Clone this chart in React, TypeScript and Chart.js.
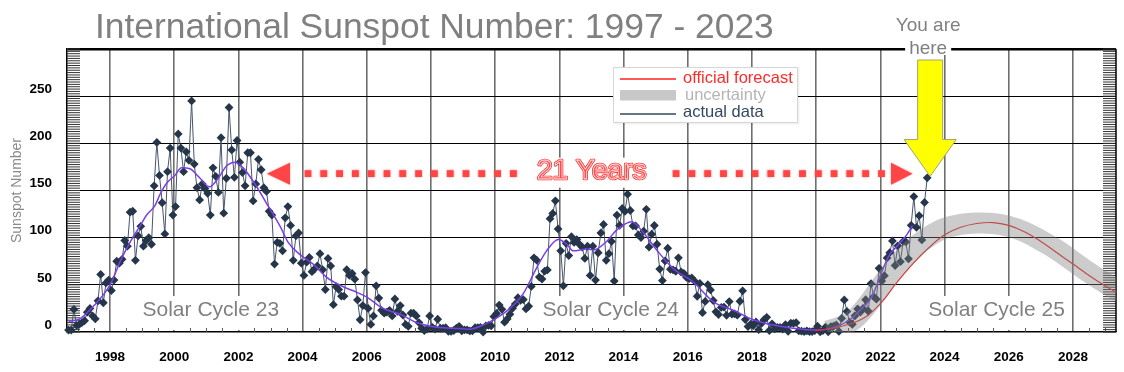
import React, { useEffect, useRef } from 'react';
import { Chart, registerables } from 'chart.js';

Chart.register(...registerables);

// ---------- data ----------
const firstYear = 1996;
const firstMonth = 9; // September 1996

const monthlySunspots = [
  // 1996 (Sep-Dec)
  2, 2, 24, 7,
  // 1997
  8, 10, 12, 21, 25, 17, 14, 33, 61, 31, 52, 55,
  // 1998
  44, 55, 75, 73, 77, 97, 91, 127, 128, 76, 102, 112,
  // 1999
  91, 97, 100, 93, 155, 201, 166, 137, 104, 170, 195, 124,
  // 2000
  133, 210, 195, 170, 191, 182, 245, 178, 153, 140, 157, 152,
  // 2001
  147, 124, 174, 165, 148, 206, 126, 163, 238, 193, 164, 203,
  // 2002
  180, 169, 155, 190, 190, 139, 157, 183, 172, 153, 149, 128,
  // 2003
  124, 72, 95, 94, 86, 121, 133, 113, 76, 102, 105, 73,
  // 2004
  60, 74, 79, 64, 67, 70, 83, 66, 45, 78, 70, 29,
  // 2005
  48, 45, 38, 38, 66, 60, 62, 56, 34, 13, 28, 63,
  // 2006
  25, 8, 17, 49, 36, 23, 20, 21, 23, 17, 35, 22,
  // 2007
  28, 18, 8, 6, 20, 20, 17, 10, 4, 1.5, 3, 17,
  // 2008
  5, 3, 13.5, 4, 4, 4.5, 0.7, 0.7, 1.6, 4, 6, 1.2,
  // 2009
  2.3, 2.2, 1.1, 1.2, 4.5, 4.5, 5, 0, 6.5, 7.1, 6.5, 16.4,
  // 2010
  19.6, 28.5, 24, 10.4, 13.9, 18.8, 25.2, 29.6, 36.4, 33.6, 34.4, 24.5,
  // 2011
  27.3, 48.3, 78.6, 76.1, 58.2, 56.1, 64.5, 65.8, 120.1, 125.7, 139.1, 109.3,
  // 2012
  86, 49, 94, 81, 101, 95, 98, 93, 90, 78, 91, 60,
  // 2013
  91, 55, 84, 105, 114, 76, 83, 96, 54, 124, 113, 131,
  // 2014
  127.8, 146.1, 128.8, 112.5, 112.5, 102.9, 100.2, 106.9, 130, 90, 103.6, 112.9,
  // 2015
  93, 66.7, 54.5, 75.3, 88.8, 66.5, 65.8, 64.4, 78.6, 63.6, 62.2, 58,
  // 2016
  56.6, 57.3, 54.1, 37.9, 51.5, 20.5, 32.4, 50.2, 44.6, 33.4, 21.4, 18.5,
  // 2017
  26.1, 26.4, 17.7, 32.3, 18.9, 19.2, 17.8, 32.6, 43.7, 13.2, 5.7, 8.2,
  // 2018
  6.8, 10.7, 2.5, 8.9, 13.1, 15.6, 1.6, 8.7, 3.3, 4.9, 4.9, 3.1,
  // 2019
  7.7, 0.8, 9.4, 9.1, 9.9, 1.2, 0.9, 0.5, 1.1, 0.4, 0.5, 1.5,
  // 2020
  6.2, 0.2, 1.5, 5.2, 0.2, 5.8, 6.1, 7.5, 0.6, 14.4, 34, 21.8,
  // 2021
  10.4, 8.2, 17.2, 24.5, 21.2, 25, 34.2, 22, 51.3, 37.4, 34.8, 67.5,
  // 2022
  54, 59.7, 78.5, 84.1, 96.5, 70.5, 91.4, 74.6, 96, 95.5, 77.6, 113.1,
  // 2023 (Jan-Jun)
  143.6, 110.9, 123.3, 97.6, 137.4, 163.4,
];

const smoothedYears = [1996.71, 1997.0, 1997.5, 1998.0, 1998.36, 1998.67, 1998.93, 1999.14, 1999.4, 1999.56, 1999.77, 2000.02, 2000.23, 2000.49, 2000.75, 2001.1, 2001.35, 2001.63, 2001.9, 2002.15, 2002.57, 2002.88, 2003.3, 2003.55, 2003.92, 2004.33, 2004.75, 2005.27, 2005.69, 2006.0, 2006.5, 2007.03, 2007.55, 2008.07, 2008.7, 2009.2, 2009.6, 2010.05, 2010.46, 2010.88, 2011.29, 2011.6, 2011.97, 2012.23, 2012.43, 2012.85, 2013.06, 2013.47, 2013.78, 2014.25, 2014.6, 2015.03, 2015.55, 2016.17, 2016.8, 2017.42, 2018.04, 2018.66, 2019.29, 2019.7, 2020.12, 2020.64, 2021.05, 2021.42, 2021.73, 2022.0, 2022.25, 2022.6, 2022.82, 2023.0];
const smoothedValues = [11.5, 13, 28, 50, 78, 98, 112, 124, 134, 146, 158, 166, 174, 173, 165, 154, 162, 176, 180, 174, 154, 136, 112, 95, 82, 72, 58, 48, 42, 37, 25, 19, 10, 5.5, 4, 3, 7, 15, 25, 41, 68, 86, 98, 93, 86, 88, 87, 96, 108, 117, 106, 87, 67, 53, 32, 23, 13, 7.4, 4, 2.5, 2, 6, 13, 25, 37, 60, 80, 94, 103, 113];

const forecastYears = [2019.96, 2020.5, 2021, 2021.5, 2022, 2022.5, 2023, 2023.5, 2024, 2024.5, 2025, 2025.5, 2026, 2026.5, 2027, 2027.5, 2028, 2028.5, 2029, 2029.5];
const forecastValues = [1.5, 4, 8, 15, 30, 52, 72, 89, 103, 111, 115, 116, 113, 106, 96, 84, 72, 60, 49, 39];

const bandYears = [2020.35, 2020.8, 2021.2, 2021.6, 2022.0, 2022.5, 2023.0, 2023.5, 2024.0, 2024.5, 2025.0, 2025.5, 2026.0, 2026.5, 2027.0, 2027.5, 2028.0, 2028.5, 2029.0, 2029.5];
const bandValues = [1, 6, 14, 29, 48, 70, 88, 101, 110, 114, 115.5, 115, 112, 106, 97, 87, 75, 63, 52, 42];

const xTickYears = [1998, 2000, 2002, 2004, 2006, 2008, 2010, 2012, 2014, 2016, 2018, 2020, 2022, 2024, 2026, 2028];
const yTickValues = [0, 50, 100, 150, 200, 250, 300];

const cycleLabels = ['Solar Cycle 23', 'Solar Cycle 24', 'Solar Cycle 25'];
const cycleLabelYears = [2001.14, 2013.6, 2025.62];

const legendLabels = ['official forecast', 'uncertainty', 'actual data'];
const titleText = 'International Sunspot Number: 1997 - 2023';
const spanLabel = '21 Years';
const spanStartYear = 2002.89;
const spanEndYear = 2023.0;
const spanValue = 170;
const hereLabel = ['You are', 'here'];
const hereYear = 2023.55;
const hereTipValue = 165;
const hereBaseValue = 204;

const X_MIN = 1996.66;
const X_MAX = 2029.34;

const FONT = '"Liberation Sans", Arial, Helvetica, sans-serif';

const monthlyPoints = monthlySunspots.map((v, i) => ({
  x: firstYear + (firstMonth - 1 + i + 0.5) / 12,
  y: v,
}));
const smoothedPoints = smoothedYears.map((x, i) => ({ x, y: smoothedValues[i] }));
const forecastPoints = forecastYears.map((x, i) => ({ x, y: forecastValues[i] }));
const bandPoints = bandYears.map((x, i) => ({ x, y: bandValues[i] }));

function spanGeometry(chart: any) {
  const { ctx, scales } = chart;
  const x = scales.x;
  const y = scales.y;
  const ay = y.getPixelForValue(spanValue) + 2;
  const lTip = x.getPixelForValue(spanStartYear);
  const rTip = x.getPixelForValue(spanEndYear);
  const cx = x.getPixelForValue((spanStartYear + spanEndYear) / 2) + 2;
  ctx.save();
  ctx.font = `28px ${FONT}`;
  const tw = ctx.measureText(spanLabel).width;
  ctx.restore();
  return { ay, lTip, rTip, cx, tw };
}

const overlayPlugin = {
  id: 'overlay',
  beforeDatasetsDraw(chart: any) {
    const { ctx, chartArea: a, scales } = chart;
    const x = scales.x;
    const y = scales.y;
    ctx.save();
    // Solar cycle labels on white boxes
    ctx.font = `21px ${FONT}`;
    ctx.textAlign = 'center';
    ctx.textBaseline = 'middle';
    cycleLabels.forEach((t, i) => {
      const cx = x.getPixelForValue(cycleLabelYears[i]);
      const w = ctx.measureText(t).width;
      ctx.fillStyle = '#ffffff';
      ctx.fillRect(cx - w / 2 - 4, a.bottom - 36, w + 8, 34);
      ctx.fillStyle = '#808080';
      ctx.fillText(t, cx, a.bottom - 22);
    });
    // white backing behind the "21 Years" label
    const g = spanGeometry(chart);
    ctx.fillStyle = '#ffffff';
    ctx.fillRect(g.cx - g.tw / 2 - 6, g.ay - 16, g.tw + 12, 30);
    // minor ticks along the bottom
    ctx.strokeStyle = '#555';
    ctx.lineWidth = 1;
    for (let t = Math.ceil(X_MIN * 2) / 2; t <= X_MAX; t += 0.5) {
      if (xTickYears.includes(t)) continue;
      const px = Math.round(x.getPixelForValue(t)) + 0.5;
      ctx.beginPath();
      ctx.moveTo(px, a.bottom);
      ctx.lineTo(px, a.bottom - 4);
      ctx.stroke();
    }
    // hatch on the left and right edges
    ctx.strokeStyle = '#333';
    ctx.lineWidth = 1;
    for (let v = 0; v <= 300; v += 2.5) {
      const py = y.getPixelForValue(v);
      ctx.beginPath();
      ctx.moveTo(a.left, py);
      ctx.lineTo(a.left + 13, py);
      ctx.moveTo(a.right - 13, py);
      ctx.lineTo(a.right, py);
      ctx.stroke();
    }
    // right border
    ctx.strokeStyle = '#000';
    ctx.lineWidth = 1.5;
    ctx.beginPath();
    ctx.moveTo(a.right, a.top);
    ctx.lineTo(a.right, a.bottom);
    ctx.stroke();
    ctx.restore();
  },
  afterDraw(chart: any) {
    const { ctx, chartArea: a, scales } = chart;
    const x = scales.x;
    const y = scales.y;
    ctx.save();

    // title
    ctx.font = `35.4px ${FONT}`;
    ctx.fillStyle = '#808080';
    ctx.textAlign = 'left';
    ctx.textBaseline = 'alphabetic';
    ctx.fillText(titleText, 95, 38);

    // legend
    const lx = 613, ly = 67, lw = 184, lh = 55;
    ctx.fillStyle = 'rgba(0,0,0,0.06)';
    ctx.fillRect(lx + 1, ly + 1, lw + 1.5, lh + 1.5);
    ctx.fillStyle = '#ffffff';
    ctx.fillRect(lx, ly, lw, lh);
    ctx.strokeStyle = '#d6d6d6';
    ctx.lineWidth = 1;
    ctx.strokeRect(lx + 0.5, ly + 0.5, lw, lh);
    ctx.font = `16.5px ${FONT}`;
    ctx.textBaseline = 'middle';
    // forecast
    ctx.strokeStyle = '#ff2020';
    ctx.lineWidth = 1.5;
    ctx.beginPath(); ctx.moveTo(620, 79); ctx.lineTo(676, 79); ctx.stroke();
    ctx.fillStyle = '#ff2a2a';
    ctx.fillText(legendLabels[0], 683, 78);
    // uncertainty
    ctx.fillStyle = '#c8c8c8';
    ctx.fillRect(620, 90, 56, 10.5);
    ctx.fillStyle = '#b4b4b4';
    ctx.fillText(legendLabels[1], 685, 95);
    // actual
    ctx.strokeStyle = '#34495e';
    ctx.lineWidth = 1.5;
    ctx.beginPath(); ctx.moveTo(620, 114); ctx.lineTo(676, 114); ctx.stroke();
    ctx.fillStyle = '#34495e';
    ctx.fillText(legendLabels[2], 683, 112);

    // 21 years dotted double arrow
    const { ay, lTip, rTip, cx, tw } = spanGeometry(chart);
    ctx.fillStyle = '#ff4545';
    ctx.shadowColor = 'rgba(255,80,80,0.6)';
    ctx.shadowBlur = 2;
    ctx.beginPath();
    ctx.moveTo(lTip, ay); ctx.lineTo(lTip + 23, ay - 11); ctx.lineTo(lTip + 23, ay + 11); ctx.closePath(); ctx.fill();
    ctx.beginPath();
    ctx.moveTo(rTip, ay); ctx.lineTo(rTip - 21.5, ay - 11); ctx.lineTo(rTip - 21.5, ay + 11); ctx.closePath(); ctx.fill();
    const step = 15.8;
    for (let px = lTip + 41; px <= cx - tw / 2 - 14; px += step) {
      ctx.fillRect(px - 3.4, ay - 3.4, 6.8, 6.8);
    }
    for (let px = rTip - 31; px >= cx + tw / 2 + 14; px -= step) {
      ctx.fillRect(px - 3.4, ay - 3.4, 6.8, 6.8);
    }
    ctx.shadowBlur = 0;
    ctx.shadowColor = 'transparent';
    ctx.font = `28px ${FONT}`;
    ctx.textAlign = 'center';
    ctx.textBaseline = 'middle';
    ctx.lineJoin = 'round';
    ctx.strokeStyle = '#ff3030';
    ctx.lineWidth = 2.5;
    ctx.strokeText(spanLabel, cx, ay - 2);
    ctx.fillStyle = '#ff4a4a';
    ctx.fillText(spanLabel, cx, ay - 2);
    ctx.strokeStyle = 'rgba(255,255,255,0.9)';
    ctx.lineWidth = 0.8;
    ctx.strokeText(spanLabel, cx, ay - 2);

    // yellow "you are here" arrow
    const hx = x.getPixelForValue(hereYear);
    const tipY = y.getPixelForValue(hereTipValue);
    const baseY = y.getPixelForValue(hereBaseValue);
    const topY = a.top + 11;
    ctx.fillStyle = '#ffff00';
    ctx.strokeStyle = '#a3a36a';
    ctx.lineWidth = 1;
    ctx.beginPath();
    ctx.moveTo(hx - 12.5, topY);
    ctx.lineTo(hx + 12.5, topY);
    ctx.lineTo(hx + 12.5, baseY);
    ctx.lineTo(hx + 26, baseY);
    ctx.lineTo(hx, tipY);
    ctx.lineTo(hx - 26, baseY);
    ctx.lineTo(hx - 12.5, baseY);
    ctx.closePath();
    ctx.fill();
    ctx.stroke();

    ctx.font = `19px ${FONT}`;
    ctx.textAlign = 'center';
    ctx.textBaseline = 'alphabetic';
    const hw = ctx.measureText(hereLabel[1]).width;
    ctx.fillStyle = '#ffffff';
    ctx.fillRect(hx - 2 - hw / 2 - 4, a.top - 8, hw + 8, 14);
    ctx.fillStyle = '#808080';
    ctx.fillText(hereLabel[0], hx - 2, 31);
    ctx.fillText(hereLabel[1], hx - 2, 54);

    ctx.restore();
  },
};

export default function App() {
  const canvasRef = useRef<HTMLCanvasElement | null>(null);

  useEffect(() => {
    if (!canvasRef.current) return;
    const chart = new Chart(canvasRef.current, {
      type: 'line',
      data: {
        datasets: [
          {
            label: 'uncertainty',
            data: bandPoints,
            borderColor: 'rgba(128,128,128,0.4)',
            borderWidth: 21,
            borderCapStyle: 'butt',
            pointRadius: 0,
            tension: 0.4,
            fill: false,
            clip: 0,
            order: 0,
          },
          {
            label: 'official forecast',
            data: forecastPoints,
            borderColor: '#e82a2a',
            borderWidth: 1.2,
            pointRadius: 0,
            tension: 0.4,
            fill: false,
            clip: 0,
            order: 1,
          },
          {
            label: 'smoothed',
            data: smoothedPoints,
            borderColor: '#7a3ee6',
            borderWidth: 1.5,
            pointRadius: 0,
            cubicInterpolationMode: 'monotone',
            fill: false,
            clip: 0,
            order: 2,
          },
          {
            label: 'actual data',
            data: monthlyPoints,
            borderColor: '#46556a',
            borderWidth: 1,
            pointStyle: 'rectRot',
            pointRadius: 4.4,
            pointBackgroundColor: '#25364a',
            pointBorderColor: '#25364a',
            pointBorderWidth: 0,
            tension: 0,
            fill: false,
            clip: 6,
            order: 3,
          },
        ],
      },
      options: {
        responsive: false,
        animation: false,
        devicePixelRatio: 1,
        events: [],
        layout: { padding: { top: 49, right: 8, left: 0, bottom: 0 } },
        plugins: {
          legend: { display: false },
          tooltip: { enabled: false },
          title: { display: false },
        },
        scales: {
          x: {
            type: 'linear',
            min: X_MIN,
            max: X_MAX,
            afterBuildTicks: (scale: any) => {
              scale.ticks = xTickYears.map((v) => ({ value: v }));
            },
            afterFit: (scale: any) => {
              scale.height = 40;
            },
            ticks: {
              autoSkip: false,
              maxRotation: 0,
              padding: 17,
              color: '#000',
              font: { family: FONT, size: 13.5, weight: 'bold' },
              callback: (v: any) => String(v),
            },
            grid: {
              color: '#6e6e6e',
              lineWidth: 1.6,
              drawTicks: false,
            },
            border: { display: true, color: '#000', width: 1.5 },
          },
          y: {
            type: 'linear',
            min: 0,
            max: 300,
            afterBuildTicks: (scale: any) => {
              scale.ticks = yTickValues.map((v) => ({ value: v }));
            },
            afterFit: (scale: any) => {
              scale.width = 67;
            },
            ticks: {
              padding: 15,
              labelOffset: -7,
              color: '#000',
              font: { family: FONT, size: 13.5, weight: 'bold' },
              callback: (v: any) => (v === 300 ? '' : String(v)),
            },
            grid: {
              color: '#000',
              lineWidth: (c: any) => (c.tick && c.tick.value === 300 ? 2.5 : 1.1),
              drawTicks: false,
            },
            border: { display: true, color: '#000', width: 1.5 },
            title: {
              display: true,
              text: 'Sunspot Number',
              color: '#8a8a8a',
              font: { family: FONT, size: 14 },
              padding: { top: 9, bottom: 0 },
            },
          },
        },
      },
      plugins: [overlayPlugin],
    } as any);
    return () => chart.destroy();
  }, []);

  return (
    <div style={{ position: 'fixed', left: 0, top: 0, width: 1124, height: 372, background: '#fff' }}>
      <canvas ref={canvasRef} width={1124} height={372} style={{ display: 'block' }} />
    </div>
  );
}
